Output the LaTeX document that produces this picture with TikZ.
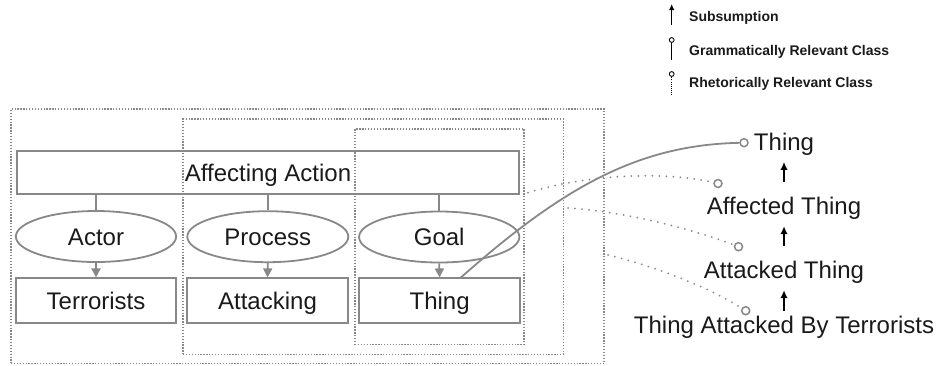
\documentclass[tikz,border=0pt]{standalone}
\usepackage{fontspec}
\setmainfont{Liberation Sans}
\usetikzlibrary{arrows.meta,shapes.geometric}
\definecolor{edge}{RGB}{136,136,136}
\definecolor{ink}{RGB}{26,26,26}
\begin{document}
\begin{tikzpicture}[x=1pt,y=-1pt,
  klass/.style={draw=edge, line width=1.8pt, rectangle, inner sep=0pt,
    text height=17.2pt, text depth=0pt, text=ink, font=\fontsize{24}{28}\selectfont},
  role/.style={klass, ellipse},
  group/.style={draw=edge, line width=1.5pt, dash pattern=on 1.3pt off 1.6pt,
    rectangle, inner sep=0pt},
  link/.style={draw=edge, line width=1.8pt},
  feed/.style={link, -{Triangle[length=9pt,width=9pt]}},
  gram/.style={draw=edge, line width=1.8pt},
  rhet/.style={draw=edge, line width=2pt, line cap=round, dash pattern=on 0pt off 7pt},
  port/.style={circle, draw=edge, line width=1.5pt, fill=white, minimum size=8pt, inner sep=0pt},
  sub/.style={draw=black, line width=1.8pt, -{Latex[length=8pt,width=7.5pt]}},
  cls/.style={font=\fontsize{24}{28}\selectfont, text=ink, inner sep=0pt,
    text height=17.2pt, text depth=0pt, anchor=base},
  keytext/.style={font=\bfseries\fontsize{14}{16}\selectfont, text=ink, anchor=base west, inner sep=0pt},
  keysub/.style={draw=black, line width=1.3pt, -{Latex[length=6pt,width=5.5pt]}},
  keyport/.style={circle, draw=black, line width=0.9pt, fill=white, minimum size=4.8pt, inner sep=0pt},
  keygram/.style={draw=black, line width=1.1pt},
  keyrhet/.style={draw=black, line width=0.9pt, dash pattern=on 0.9pt off 1.2pt}]
\useasboundingbox (0,0) rectangle (941,365);

% nested groupings of the structure
\node[group, minimum width=593pt, minimum height=254.3pt] (outer) at (307.5,236.15) {};
\node[group, minimum width=380.3pt, minimum height=235.1pt] (middle) at (373.15,236.75) {};
\node[group, minimum width=169.2pt, minimum height=215.3pt] (inner) at (439.6,236.65) {};

% the process configuration
\node[klass, minimum width=502.6pt, minimum height=43.6pt] (action) at (268,172.5) {Affecting Action};

\node[role, minimum width=160.3pt, minimum height=51pt] (actor) at (96,236.5) {Actor};
\node[role, minimum width=161pt, minimum height=51pt] (process) at (267.8,236.7) {Process};
\node[role, minimum width=160.3pt, minimum height=51pt] (goal) at (439.2,237) {Goal};

\node[klass, minimum width=160pt, minimum height=44.4pt] (terrorists) at (96,300.5) {Terrorists};
\node[klass, minimum width=160.4pt, minimum height=44.4pt] (attacking) at (267.5,300.5) {Attacking};
\node[klass, minimum width=160.7pt, minimum height=44.4pt] (thingbox) at (439.6,300.5) {Thing};

\draw[link] (action.south -| actor.north) -- (actor.north);
\draw[link] (action.south -| process.north) -- (process.north);
\draw[link] (action.south -| goal.north) -- (goal.north);
\draw[feed] (actor.south) -- (terrorists.north);
\draw[feed] (process.south) -- (attacking.north);
\draw[feed] (goal.south) -- (thingbox.north);

% the class hierarchy
\node[cls] (thing) at (784,150) {Thing};
\node[cls] (affected) at (784,214) {Affected Thing};
\node[cls] (attacked) at (784,278.3) {Attacked Thing};
\node[cls] (byterr) at (784,333.3) {Thing Attacked By Terrorists};

\draw[sub, shorten <=15.1pt, shorten >=11.7pt] (affected.north) -- (thing.south);
\draw[sub, shorten <=15.1pt, shorten >=12pt] (attacked.north) -- (affected.south);
\draw[sub, shorten <=5.4pt, shorten >=11.7pt] (byterr.north) -- (attacked.south);

% relevance links
\node[port] (pthing) at (744,142.7) {};
\node[port] (paffected) at (718,183.5) {};
\node[port] (pattacked) at (738.5,246.7) {};
\node[port] (pbyterr) at (745.7,310.7) {};

\coordinate (goalout) at (460,278.3);
\coordinate (innerout) at (528,192.7);
\coordinate (middleout) at (568,208);
\coordinate (outerout) at (608,255);

\draw[gram] (goalout) .. controls (565,185) and (640,145) .. (pthing);
\draw[rhet] (innerout) .. controls (580,176) and (660,170) .. (paffected);
\draw[rhet] (middleout) .. controls (620,211) and (690,228) .. (pattacked);
\draw[rhet] (outerout) .. controls (650,265) and (705,285) .. (pbyterr);

% key
\coordinate (k1a) at (671.7,25);
\coordinate (k1b) at (671.7,4);
\draw[keysub] (k1a) -- (k1b);
\node[keytext] (k1) at (689,21.7) {Subsumption};

\node[keyport] (k2c) at (671.7,40) {};
\coordinate (k2a) at (671.7,60);
\draw[keygram] (k2a) -- (k2c);
\node[keytext] (k2) at (689,55) {Grammatically Relevant Class};

\node[keyport] (k3c) at (671.7,74) {};
\coordinate (k3a) at (671.7,95);
\draw[keyrhet] (k3a) -- (k3c);
\node[keytext] (k3) at (689,87.3) {Rhetorically Relevant Class};
\end{tikzpicture}
\end{document}
